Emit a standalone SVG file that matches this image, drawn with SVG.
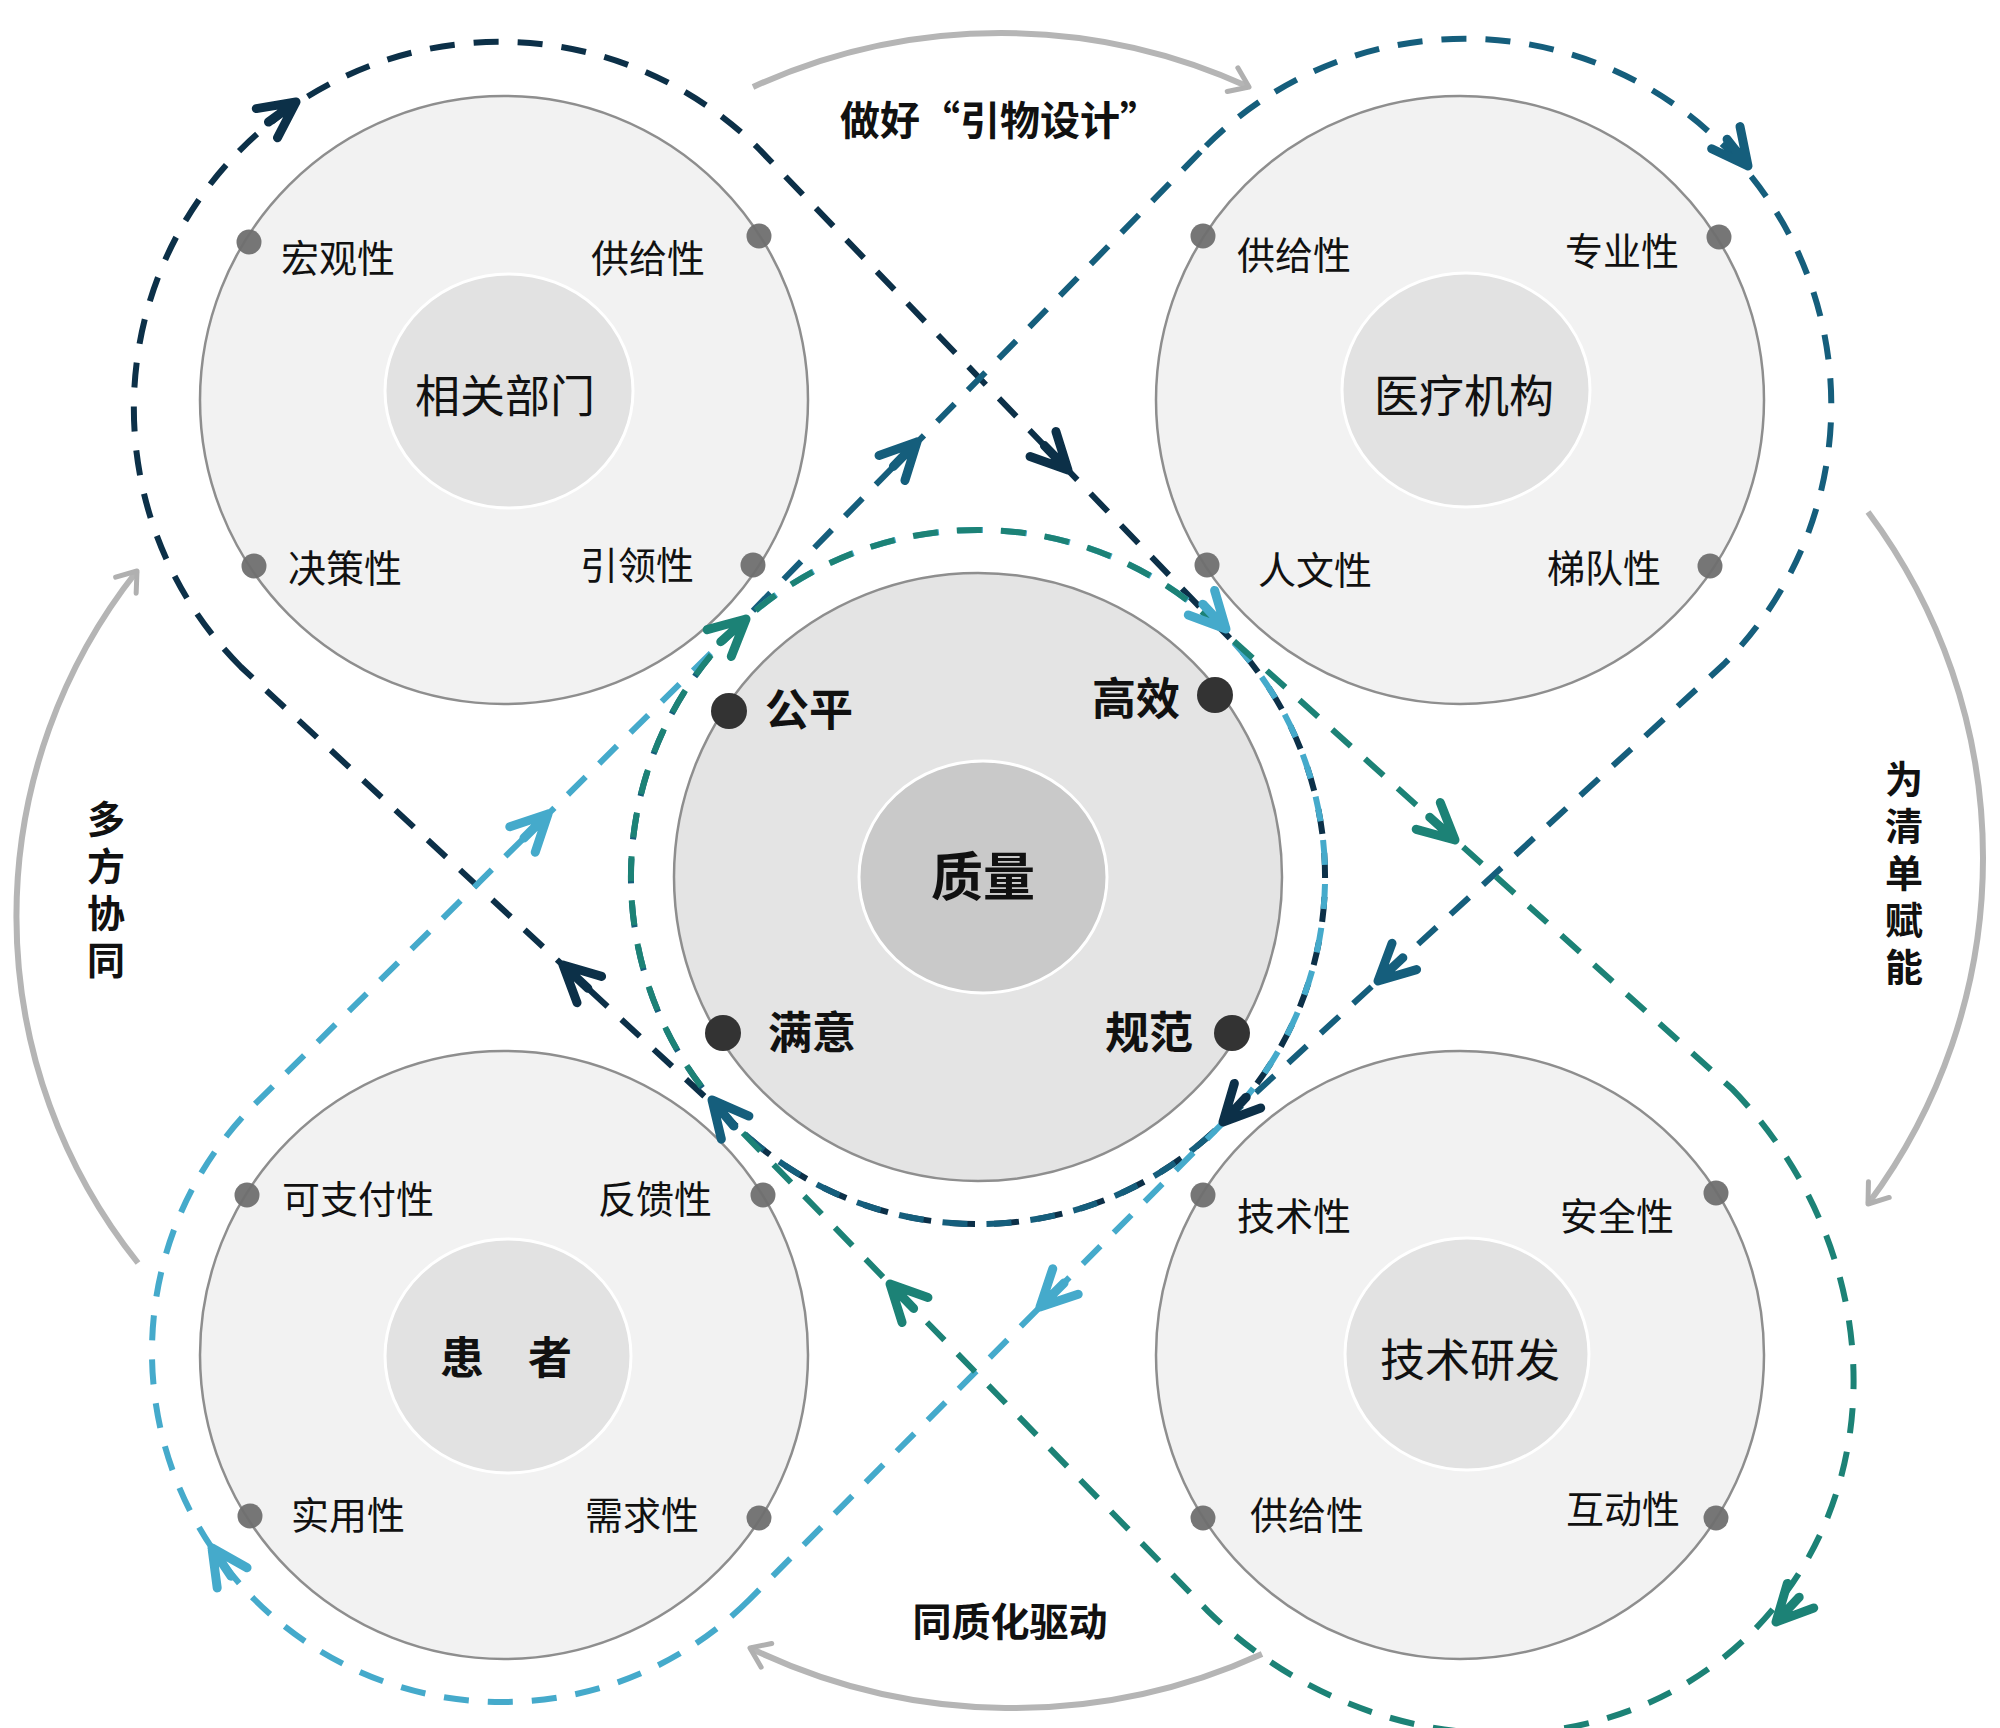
<svg xmlns="http://www.w3.org/2000/svg" xmlns:xlink="http://www.w3.org/1999/xlink" width="2000" height="1728" viewBox="0 0 2000 1728">
<style>
  .outer{fill:#f2f2f2;stroke:#8e8e8e;stroke-width:2.5}
  .inner{fill:#e2e2e2;stroke:#ffffff;stroke-width:3}
  .cout{fill:#e4e4e4;stroke:#8e8e8e;stroke-width:2.5}
  .cin{fill:#c9c9c9;stroke:#ffffff;stroke-width:3}
  .dot{fill:#6f6f6f;opacity:0.95}
  .cdot{fill:#333333}
  .lbl{font-family:"Noto Sans CJK SC","Noto Sans",sans-serif;font-size:38px;fill:#111}
  .ttl{font-family:"Noto Sans CJK SC","Noto Sans",sans-serif;font-size:45px;fill:#111;text-anchor:middle}
  .bold{font-family:"Noto Sans CJK SC","Noto Sans",sans-serif;font-weight:700;fill:#111}
  .vert{writing-mode:vertical-rl;letter-spacing:9px}
  .loop{fill:none;stroke-width:6;stroke-dasharray:25 19}
  .gray{fill:none;stroke:#b5b5b5;stroke-width:6}
  .navy{stroke:#0c3048}
  .tblue{stroke:#155e7c}
  .tgreen{stroke:#1c8276}
  .lblue{stroke:#45aacb}
</style>
<defs>
  <path id="chev" d="M-36,-18 L0,0 L-36,18 M-34,0 L0,0" fill="none" stroke-width="9" stroke-linecap="round" stroke-linejoin="round"/>
  <path id="gchev" d="M-18,-13 L0,0 L-18,13" fill="none" stroke="#b0b0b0" stroke-width="5" stroke-linecap="round" stroke-linejoin="round"/>
</defs>
<rect width="2000" height="1728" fill="#ffffff"/>

<g id="node-bumen">
  <circle class="outer" cx="504" cy="400" r="304"/>
  <ellipse class="inner" cx="509" cy="391" rx="124" ry="117"/>
  <text class="ttl" x="505" y="413">相关部门</text>
  <text class="lbl" x="281" y="272">宏观性</text>
  <text class="lbl" x="591" y="272">供给性</text>
  <text class="lbl" x="288" y="582">决策性</text>
  <text class="lbl" x="580" y="579">引领性</text>
  <circle class="dot" cx="249" cy="242" r="12.5"/>
  <circle class="dot" cx="759" cy="236" r="12.5"/>
  <circle class="dot" cx="254" cy="566" r="12.5"/>
  <circle class="dot" cx="753" cy="565" r="12.5"/>
</g>

<g id="node-yiliao">
  <circle class="outer" cx="1460" cy="400" r="304"/>
  <ellipse class="inner" cx="1466" cy="390" rx="124" ry="117"/>
  <text class="ttl" x="1464" y="413">医疗机构</text>
  <text class="lbl" x="1237" y="269">供给性</text>
  <text class="lbl" x="1565" y="265">专业性</text>
  <text class="lbl" x="1258" y="584">人文性</text>
  <text class="lbl" x="1547" y="582">梯队性</text>
  <circle class="dot" cx="1203" cy="236" r="12.5"/>
  <circle class="dot" cx="1719" cy="237" r="12.5"/>
  <circle class="dot" cx="1207" cy="565" r="12.5"/>
  <circle class="dot" cx="1710" cy="566" r="12.5"/>
</g>

<g id="node-huanzhe">
  <circle class="outer" cx="504" cy="1355" r="304"/>
  <ellipse class="inner" cx="508" cy="1356" rx="123" ry="117"/>
  <text class="bold" x="506" y="1374" font-size="44" text-anchor="middle">患　者</text>
  <text class="lbl" x="282" y="1213">可支付性</text>
  <text class="lbl" x="598" y="1213">反馈性</text>
  <text class="lbl" x="291" y="1529">实用性</text>
  <text class="lbl" x="585" y="1529">需求性</text>
  <circle class="dot" cx="247" cy="1195" r="12.5"/>
  <circle class="dot" cx="763" cy="1195" r="12.5"/>
  <circle class="dot" cx="250" cy="1516" r="12.5"/>
  <circle class="dot" cx="759" cy="1518" r="12.5"/>
</g>

<g id="node-jishu">
  <circle class="outer" cx="1460" cy="1355" r="304"/>
  <ellipse class="inner" cx="1467" cy="1354" rx="122" ry="116"/>
  <text class="ttl" x="1470" y="1377">技术研发</text>
  <text class="lbl" x="1237" y="1230">技术性</text>
  <text class="lbl" x="1560" y="1230">安全性</text>
  <text class="lbl" x="1250" y="1529">供给性</text>
  <text class="lbl" x="1566" y="1523">互动性</text>
  <circle class="dot" cx="1203" cy="1195" r="12.5"/>
  <circle class="dot" cx="1716" cy="1193" r="12.5"/>
  <circle class="dot" cx="1203" cy="1518" r="12.5"/>
  <circle class="dot" cx="1716" cy="1518" r="12.5"/>
</g>

<g id="node-zhiliang">
  <circle class="cout" cx="978" cy="877" r="304"/>
  <ellipse class="cin" cx="983" cy="877" rx="124" ry="116"/>
  <text class="bold" x="983" y="896" font-size="52" text-anchor="middle">质量</text>
  <text class="bold" x="765" y="726" font-size="44">公平</text>
  <text class="bold" x="1092" y="715" font-size="44">高效</text>
  <text class="bold" x="768" y="1049" font-size="44">满意</text>
  <text class="bold" x="1105" y="1049" font-size="44">规范</text>
  <circle class="cdot" cx="729" cy="711" r="18"/>
  <circle class="cdot" cx="1215" cy="695" r="18"/>
  <circle class="cdot" cx="723" cy="1033" r="18"/>
  <circle class="cdot" cx="1232" cy="1033" r="18"/>
</g>

<g id="labels">
  <text class="bold" x="1000" y="135" font-size="40" text-anchor="middle">做好“引物设计”</text>
  <text class="bold" x="1010" y="1636" font-size="39" text-anchor="middle">同质化驱动</text>
  <text class="bold vert" x="106" y="800" font-size="38">多方协同</text>
  <text class="bold vert" x="1904" y="760" font-size="38">为清单赋能</text>
</g>

<g id="connectors">
  <!-- gray outer arcs -->
  <path class="gray" d="M753,87 A596,596 0 0,1 1249,87"/>
  <use xlink:href="#gchev" href="#gchev" transform="translate(1249,87) rotate(24)"/>
  <path class="gray" d="M1868,512 A578,578 0 0,1 1868,1204"/>
  <use xlink:href="#gchev" href="#gchev" transform="translate(1868,1204) rotate(127)"/>
  <path class="gray" d="M1262,1654 A603,603 0 0,1 750,1648"/>
  <use xlink:href="#gchev" href="#gchev" transform="translate(750,1648) rotate(204)"/>
  <path class="gray" d="M138,1263 A555,555 0 0,1 137,571"/>
  <use xlink:href="#gchev" href="#gchev" transform="translate(137,571) rotate(-52)"/>

  <!-- dashed loops -->
  <path class="loop navy" d="M241,667 A366,366 0 0,1 759,149 L1223.4,631.6 A347,347 0 0,1 732.6,1122.4 Z"/>
  <path class="loop tblue" d="M1206,146 A366,366 0 0,1 1724,664 L1223.4,1122.4 A347,347 0 0,1 732.6,631.6 Z"/>
  <path class="loop lblue" d="M749.5,1599.5 A350,350 0 0,1 254.5,1104.5 L732.6,631.6 A347,347 0 0,1 1223.4,1122.4 Z"/>
  <path class="loop tgreen" d="M1731.6,1088.4 A405,370 45 0,1 1208.4,1611.6 L732.6,1122.4 A347,347 0 0,1 1223.4,631.6 Z"/>

  <!-- arrowheads -->
  <use xlink:href="#chev" href="#chev" stroke="#0c3048" transform="translate(296,102) rotate(-36)"/>
  <use xlink:href="#chev" href="#chev" stroke="#0c3048" transform="translate(1068,470) rotate(46)"/>
  <use xlink:href="#chev" href="#chev" stroke="#0c3048" transform="translate(1223,1122) rotate(133)"/>
  <use xlink:href="#chev" href="#chev" stroke="#0c3048" transform="translate(563,965) rotate(223)"/>

  <use xlink:href="#chev" href="#chev" stroke="#155e7c" transform="translate(1748,166) rotate(52)"/>
  <use xlink:href="#chev" href="#chev" stroke="#155e7c" transform="translate(1378,981) rotate(137)"/>
  <use xlink:href="#chev" href="#chev" stroke="#155e7c" transform="translate(712,1100) rotate(230)"/>
  <use xlink:href="#chev" href="#chev" stroke="#155e7c" transform="translate(917,442) rotate(-46)"/>

  <use xlink:href="#chev" href="#chev" stroke="#45aacb" transform="translate(1040,1307) rotate(135)"/>
  <use xlink:href="#chev" href="#chev" stroke="#45aacb" transform="translate(212,1548) rotate(236)"/>
  <use xlink:href="#chev" href="#chev" stroke="#45aacb" transform="translate(548,814) rotate(-45)"/>
  <use xlink:href="#chev" href="#chev" stroke="#45aacb" transform="translate(1226,629) rotate(47)"/>

  <use xlink:href="#chev" href="#chev" stroke="#1c8276" transform="translate(1776,1622) rotate(133)"/>
  <use xlink:href="#chev" href="#chev" stroke="#1c8276" transform="translate(890,1284) rotate(226)"/>
  <use xlink:href="#chev" href="#chev" stroke="#1c8276" transform="translate(746,619) rotate(-42)"/>
  <use xlink:href="#chev" href="#chev" stroke="#1c8276" transform="translate(1455,840) rotate(42)"/>
</g>
</svg>
